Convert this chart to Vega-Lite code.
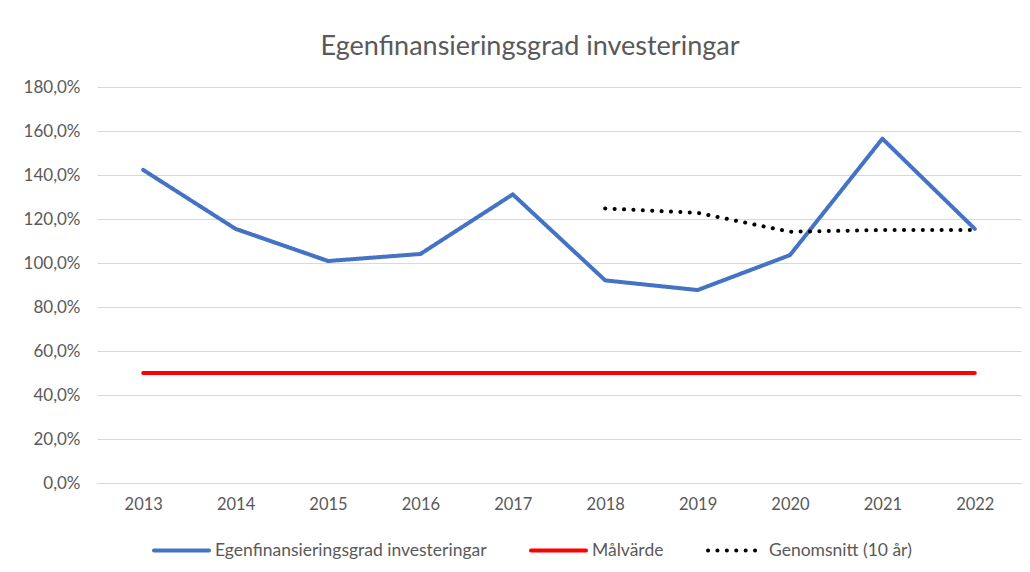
{
  "$schema": "https://vega.github.io/schema/vega-lite/v6.json",
  "autosize": {"type": "none"},
  "padding": {"left": 97, "top": 87, "right": 9, "bottom": 89},
  "width": 924,
  "height": 396,
  "background": "white",
  "title": {
    "text": "Egenfinansieringsgrad investeringar",
    "font": "Lato",
    "fontSize": 27,
    "fontWeight": "normal",
    "color": "#595959",
    "offset": 17,
    "dx": -29
  },
  "config": {
    "font": "Lato",
    "view": {"stroke": null}
  },
  "data": {
    "values": [
      {"year": "2013", "series": "Egenfinansieringsgrad investeringar", "value": 142.3},
      {"year": "2014", "series": "Egenfinansieringsgrad investeringar", "value": 115.5},
      {"year": "2015", "series": "Egenfinansieringsgrad investeringar", "value": 100.9},
      {"year": "2016", "series": "Egenfinansieringsgrad investeringar", "value": 104.1},
      {"year": "2017", "series": "Egenfinansieringsgrad investeringar", "value": 131.2},
      {"year": "2018", "series": "Egenfinansieringsgrad investeringar", "value": 92.1},
      {"year": "2019", "series": "Egenfinansieringsgrad investeringar", "value": 87.7},
      {"year": "2020", "series": "Egenfinansieringsgrad investeringar", "value": 103.6},
      {"year": "2021", "series": "Egenfinansieringsgrad investeringar", "value": 156.5},
      {"year": "2022", "series": "Egenfinansieringsgrad investeringar", "value": 115.5},
      {"year": "2013", "series": "Målvärde", "value": 50},
      {"year": "2014", "series": "Målvärde", "value": 50},
      {"year": "2015", "series": "Målvärde", "value": 50},
      {"year": "2016", "series": "Målvärde", "value": 50},
      {"year": "2017", "series": "Målvärde", "value": 50},
      {"year": "2018", "series": "Målvärde", "value": 50},
      {"year": "2019", "series": "Målvärde", "value": 50},
      {"year": "2020", "series": "Målvärde", "value": 50},
      {"year": "2021", "series": "Målvärde", "value": 50},
      {"year": "2022", "series": "Målvärde", "value": 50},
      {"year": "2018", "series": "Genomsnitt (10 år)", "value": 124.8},
      {"year": "2019", "series": "Genomsnitt (10 år)", "value": 122.8},
      {"year": "2020", "series": "Genomsnitt (10 år)", "value": 114.2},
      {"year": "2021", "series": "Genomsnitt (10 år)", "value": 115.0},
      {"year": "2022", "series": "Genomsnitt (10 år)", "value": 115.0}
    ]
  },
  "mark": {"type": "line", "strokeWidth": 4, "strokeCap": "round", "strokeJoin": "round"},
  "encoding": {
    "x": {
      "field": "year",
      "type": "ordinal",
      "scale": {"paddingInner": 0, "paddingOuter": 0.5},
      "axis": {
        "title": null,
        "labelAngle": 0,
        "labelFontSize": 16.5,
        "labelColor": "#595959",
        "labelPadding": 13,
        "ticks": false,
        "domainColor": "#d9d9d9",
        "domainWidth": 1,
        "grid": false
      }
    },
    "y": {
      "field": "value",
      "type": "quantitative",
      "scale": {"domain": [0, 180], "nice": false},
      "axis": {
        "title": null,
        "values": [0, 20, 40, 60, 80, 100, 120, 140, 160, 180],
        "labelExpr": "replace(format(datum.value, '.1f'), '.', ',') + '%'",
        "labelFontSize": 17,
        "labelColor": "#595959",
        "labelPadding": 17,
        "ticks": false,
        "domain": false,
        "gridColor": "#d9d9d9",
        "gridWidth": 1.2
      }
    },
    "color": {
      "field": "series",
      "type": "nominal",
      "scale": {
        "domain": ["Egenfinansieringsgrad investeringar", "Målvärde", "Genomsnitt (10 år)"],
        "range": ["#4472C4", "#FF0000", "#000000"]
      },
      "legend": {
        "title": null,
        "orient": "none",
        "direction": "horizontal",
        "legendX": 55,
        "legendY": 434,
        "symbolType": "stroke",
        "symbolSize": 3025,
        "symbolStrokeWidth": 4,
        "labelFontSize": 17.5,
        "labelColor": "#595959",
        "labelOffset": 4,
        "labelLimit": 400,
        "columnPadding": 36,
        "encode": {"symbols": {"update": {"strokeCap": {"value": "round"}}}}
      }
    },
    "strokeDash": {
      "field": "series",
      "type": "nominal",
      "scale": {
        "domain": ["Egenfinansieringsgrad investeringar", "Målvärde", "Genomsnitt (10 år)"],
        "range": [[1, 0], [1, 0], [0.1, 9.3]]
      },
      "legend": null
    }
  }
}
